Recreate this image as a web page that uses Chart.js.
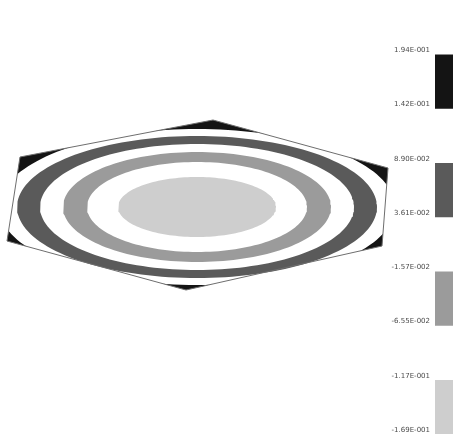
<!DOCTYPE html>
<html>
<head>
<meta charset="utf-8">
<script src="https://cdn.jsdelivr.net/npm/chart.js@4/dist/chart.umd.min.js"></script>
<style>
  html, body { margin: 0; padding: 0; background: #ffffff; width: 453px; height: 434px; overflow: hidden; }
  #plot { position: absolute; left: 0; top: 0; }
  #bar { position: absolute; left: 380px; top: 0; }
</style>
</head>
<body>
<canvas id="plot" width="435" height="434"></canvas>
<canvas id="bar" width="73" height="434"></canvas>
<script>
// Contour levels shown on the colour bar, top to bottom
const levelLabels = ['1.94E-001', '1.42E-001', '8.90E-002', '3.61E-002', '-1.57E-002', '-6.55E-002', '-1.17E-001', '-1.69E-001'];
const levelValues = [0.194, 0.142, 0.089, 0.0361, -0.0157, -0.0655, -0.117, -0.169];
// Fill of each band, from above the top level down to the lowest band
const bandColors = ['#ffffff', '#141414', '#ffffff', '#5a5a5a', '#ffffff', '#9b9b9b', '#ffffff', '#cecece'];

// Hexagonal domain corners (model units, centre of the field at 0,0)
const domainX = [-177, 16, 191, 185, -11, -190];
const domainY = [50, 87, 39, -39, -83, -34];

// Elliptical iso-lines for levels 1.42E-001 ... -1.17E-001: semi-axes
const contourLevels = levelValues.slice(1, 7);
const contourA = [198, 180, 157, 134, 110, 79];
const contourB = [78, 71, 63, 55, 45, 30];

function ellipsePoints(a, b) {
  const pts = [];
  const n = 160;
  for (let i = 0; i <= n; i++) {
    const t = (2 * Math.PI * i) / n;
    pts.push({ x: a * Math.cos(t), y: b * Math.sin(t) });
  }
  return pts;
}

const hexPoints = domainX.map((x, i) => ({ x, y: domainY[i] }));
hexPoints.push({ x: domainX[0], y: domainY[0] });

// region above the top iso-line fills the whole domain first
const layers = [{ data: hexPoints, color: bandColors[1] }];
contourLevels.forEach((lv, k) => {
  const idx = levelValues.indexOf(lv);
  layers.push({ data: ellipsePoints(contourA[k], contourB[k]), color: bandColors[idx + 1] });
});

const total = layers.length + 1;
const datasets = layers.map((L, i) => ({
  data: L.data,
  showLine: true,
  fill: 'shape',
  backgroundColor: L.color,
  borderColor: 'rgba(0,0,0,0)',
  borderWidth: 1,
  pointRadius: 0,
  tension: 0,
  order: total - i
}));
datasets.push({
  data: hexPoints,
  showLine: true,
  fill: false,
  borderColor: '#6e6e6e',
  borderWidth: 1,
  pointRadius: 0,
  tension: 0,
  order: 0
});

new Chart(document.getElementById('plot'), {
  type: 'scatter',
  data: { datasets },
  options: {
    responsive: false,
    animation: false,
    layout: { padding: 0 },
    plugins: { legend: { display: false }, tooltip: { enabled: false } },
    scales: {
      x: { type: 'linear', min: -197, max: 238, display: false },
      y: { type: 'linear', min: -227, max: 207, display: false }
    }
  }
});

// Colour bar: one stacked column, one band per level interval
new Chart(document.getElementById('bar'), {
  type: 'bar',
  data: {
    labels: [''],
    datasets: bandColors.map(c => ({
      data: [1],
      backgroundColor: c,
      borderWidth: 0,
      barPercentage: 1,
      categoryPercentage: 1
    }))
  },
  options: {
    responsive: false,
    animation: false,
    layout: { padding: 0 },
    plugins: { legend: { display: false }, tooltip: { enabled: false } },
    scales: {
      x: { stacked: true, display: false },
      y: {
        stacked: true,
        reverse: true,
        min: 0,
        max: bandColors.length,
        position: 'left',
        grid: { display: false, drawTicks: false },
        border: { display: true, color: '#c8c8c8', width: 1 },
        ticks: {
          stepSize: 1,
          autoSkip: false,
          padding: 5,
          labelOffset: -4,
          color: '#4a4a4a',
          font: { family: 'DejaVu Sans', size: 7 },
          callback: v => (v >= 1 && v <= levelLabels.length ? levelLabels[v - 1] : '')
        },
        afterFit: axis => {
          axis.width = 55;
          axis.paddingTop = 0;
          axis.paddingBottom = 0;
        }
      }
    }
  }
});
</script>
</body>
</html>
